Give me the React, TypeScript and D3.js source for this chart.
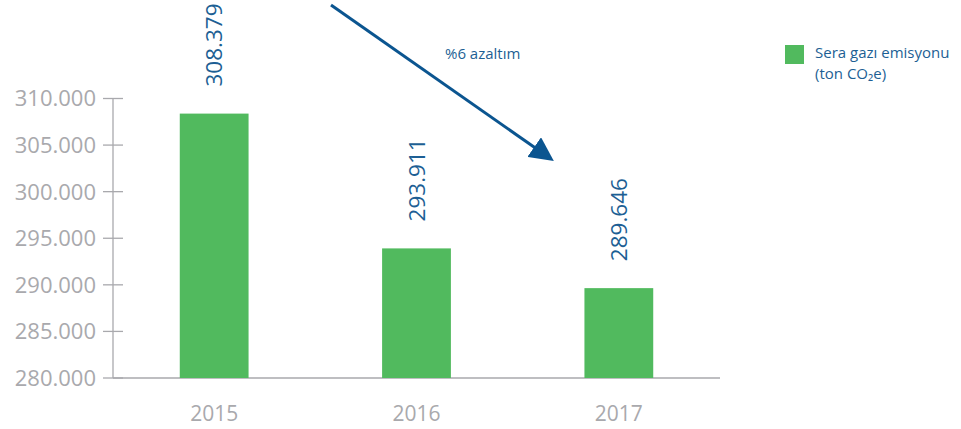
import React from "react";
import * as d3 from "d3";

const categories = ["2015", "2016", "2017"];
const values = [308379, 293911, 289646];
const valueLabels = ["308.379", "293.911", "289.646"];
const yTicks = [280000, 285000, 290000, 295000, 300000, 305000, 310000];
const yTickLabels = ["280.000", "285.000", "290.000", "295.000", "300.000", "305.000", "310.000"];
const legendLines = ["Sera gazı emisyonu", "(ton CO₂e)"];
const annotation = "%6 azaltım";

const W = 961;
const H = 429;
const left = 113;
const right = 720;
const top = 98.5;
const bottom = 378;

const GREEN = "#51ba5e";
const BLUE = "#1d5f94";
const GRAY = "#a9a9ad";
const FONT = "'Open Sans', Lato, sans-serif";

export default function App() {
  const x = d3.scaleBand<string>().domain(categories).range([left, right]).paddingInner(0.66).paddingOuter(0.33);
  const y = d3.scaleLinear().domain([280000, 310000]).range([bottom, top]);

  return (
    <svg width={W} height={H} style={{ position: "absolute", left: 0, top: 0 }}>
      <defs>
        <marker id="ah" viewBox="0 0 10 10" refX="5" refY="5" markerWidth="8" markerHeight="8" orient="auto" markerUnits="strokeWidth">
          <path d="M0,0 L10,5 L0,10 z" fill="#0b5590" />
        </marker>
      </defs>
      <line x1={left} x2={left} y1={top} y2={bottom} stroke={GRAY} strokeWidth={1.3} />
      <line x1={left} x2={right} y1={bottom} y2={bottom} stroke={GRAY} strokeWidth={1.3} />
      {yTicks.map((t, i) => (
        <g key={t}>
          <line x1={left - 10} x2={left + 10} y1={y(t)} y2={y(t)} stroke={GRAY} strokeWidth={1.3} />
          <text x={96} y={y(t)} dy="0.36em" textAnchor="end" fontSize={22} fill={GRAY} fontFamily={FONT}>
            {yTickLabels[i]}
          </text>
        </g>
      ))}
      {categories.map((c, i) => {
        const bx = x(c)!;
        const bw = x.bandwidth();
        const cx = bx + bw / 2;
        const ty = y(values[i]);
        return (
          <g key={c}>
            <rect x={bx} y={ty} width={bw} height={bottom - ty} fill={GREEN} />
            <text
              transform={`translate(${cx + 8},${ty - 27}) rotate(-90)`}
              fontSize={22.5}
              fill={BLUE}
              fontFamily={FONT}
            >
              {valueLabels[i]}
            </text>
            <text x={cx} y={421} textAnchor="middle" fontSize={21} fill={GRAY} fontFamily={FONT}>
              {c}
            </text>
          </g>
        );
      })}
      <line x1={331} y1={5} x2={544} y2={154} stroke="#0b5590" strokeWidth={3} markerEnd="url(#ah)" />
      <text x={445} y={59} fontSize={15} fill={BLUE} fontFamily={FONT}>
        {annotation}
      </text>
      <rect x={785} y={45} width={19} height={19} fill={GREEN} />
      {legendLines.map((l, i) => (
        <text key={i} x={815} y={58} dy={i * 21} fontSize={15} fill={BLUE} fontFamily={FONT}>
          {l}
        </text>
      ))}
    </svg>
  );
}
